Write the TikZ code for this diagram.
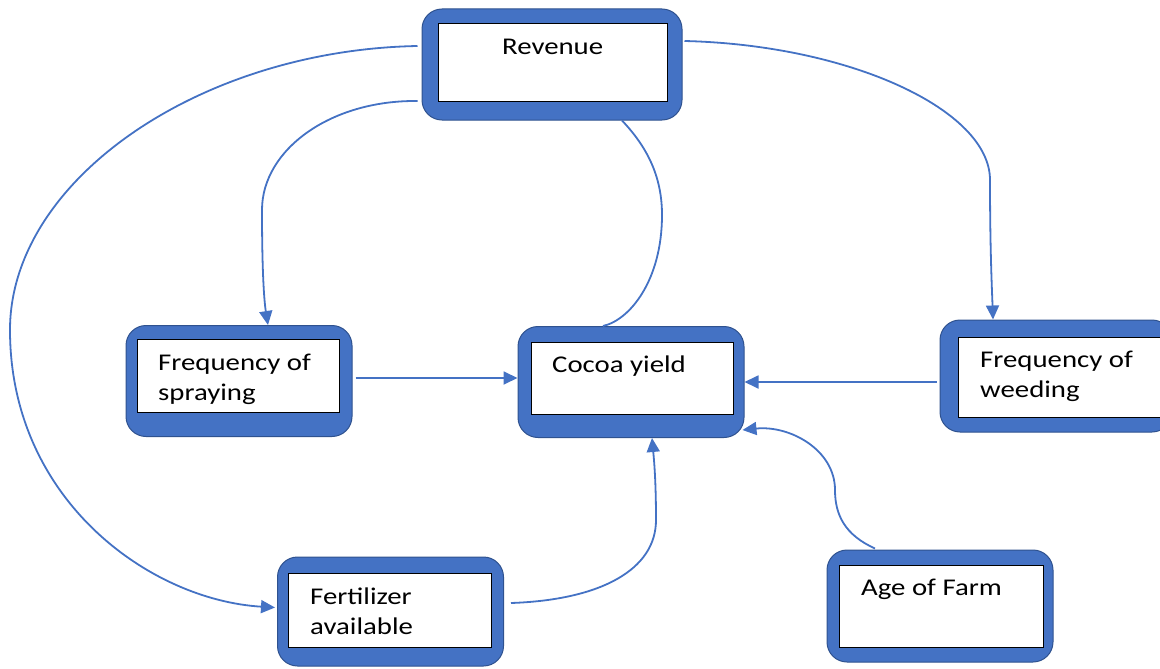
\documentclass[tikz,border=0pt]{standalone}
\usepackage{fontspec}
\setmainfont{Carlito}[FakeStretch=1.2]
\usetikzlibrary{arrows.meta,calc}
\definecolor{boxblue}{HTML}{4472C4}
\definecolor{boxedge}{HTML}{2F528F}
\begin{document}
\begin{tikzpicture}[x=1pt,y=-1pt,
  outerbox/.style={draw=boxedge, line width=1pt, fill=boxblue, rounded corners=20pt, inner sep=0pt},
  innerbox/.style={draw=black, line width=1pt, fill=white, inner sep=0pt},
  txt/.style={anchor=base west, inner sep=0pt, font=\fontsize{24}{30}\selectfont},
  link/.style={draw=boxblue, line width=1.8pt},
  arrow/.style={link, -{Triangle[length=14pt,width=13pt]}}
]
\useasboundingbox (0,0) rectangle (1160,669);
\clip (0,0) rectangle (1160,669);

% Revenue
\node[outerbox, minimum width=260pt, minimum height=111pt] (rev) at (552,64.5) {};
\node[innerbox, minimum width=229pt, minimum height=78pt] (revin) at (552.5,63) {};
\node[txt] (revt) at (502,55) {Revenue};

% Frequency of spraying
\node[outerbox, minimum width=226pt, minimum height=111pt] (spray) at (239,381) {};
\node[innerbox, minimum width=202pt, minimum height=73pt] (sprayin) at (238,375.5) {};
\node[txt] (sprayt1) at (158,370) {Frequency of};
\node[txt] (sprayt2) at (158,400) {spraying};

% Cocoa yield
\node[outerbox, minimum width=226pt, minimum height=111pt] (cocoa) at (631,382) {};
\node[innerbox, minimum width=202pt, minimum height=72pt] (cocoain) at (632,378) {};
\node[txt] (cocoat) at (552,372) {Cocoa yield};

% Frequency of weeding
\node[outerbox, minimum width=232pt, minimum height=112pt] (weed) at (1056,376) {};
\node[innerbox, minimum width=204pt, minimum height=80pt] (weedin) at (1060,377) {};
\node[txt] (weedt1) at (980,367) {Frequency of};
\node[txt] (weedt2) at (980,397) {weeding};

% Fertilizer available
\node[outerbox, minimum width=226pt, minimum height=109pt] (fert) at (390.5,611.5) {};
\node[innerbox, minimum width=203pt, minimum height=74pt] (fertin) at (390,610) {};
\node[txt] (fertt1) at (310,604) {Fertilizer};
\node[txt] (fertt2) at (310,634) {available};

% Age of Farm
\node[outerbox, minimum width=226pt, minimum height=112pt] (age) at (940,606) {};
\node[innerbox, minimum width=204pt, minimum height=82pt] (agein) at (941,606) {};
\node[txt] (aget) at (861,595) {Age of Farm};

% Connectors
\draw[arrow] ($(rev.west)+(-4,-18.5)$)
  .. controls (200,50) and (10,180) .. (10,330)
  .. controls (10,500) and (150,600) .. ($(fert.west)+(-2,-4)$);
\draw[arrow] ($(rev.west)+(-4,36.5)$)
  .. controls (330,100) and (262,150) .. (262,210)
  .. controls (262,270) and (264,300) .. ($(spray.north)+(29,0)$);
\draw[link] ($(rev.south)+(70,0)$)
  .. controls (650,150) and (662,180) .. (662,215)
  .. controls (662,280) and (630,320) .. ($(cocoa.north)+(-28,0)$);
\draw[arrow] ($(rev.east)+(2,-23.5)$)
  .. controls (850,45) and (990,110) .. (990,180)
  .. controls (990,250) and (992,290) .. ($(weed.north)+(-63,0)$);
\draw[arrow] ($(spray.east)+(3,-3)$) -- ($(cocoa.west)+(0,-4)$);
\draw[arrow] ($(weed.west)+(-3,6)$) -- ($(cocoa.east)+(0,0)$);
\draw[arrow] ($(fert.east)+(7,-8.5)$)
  .. controls (600,600) and (656,570) .. (656,520)
  .. controls (656,480) and (654,460) .. ($(cocoa.south)+(21,0)$);
\draw[arrow] ($(age.north)+(-65,-1)$)
  .. controls (845,535) and (835,515) .. (835,490)
  .. controls (835,450) and (790,425) .. ($(cocoa.south east)+(-2,-8)$);
\end{tikzpicture}
\end{document}
